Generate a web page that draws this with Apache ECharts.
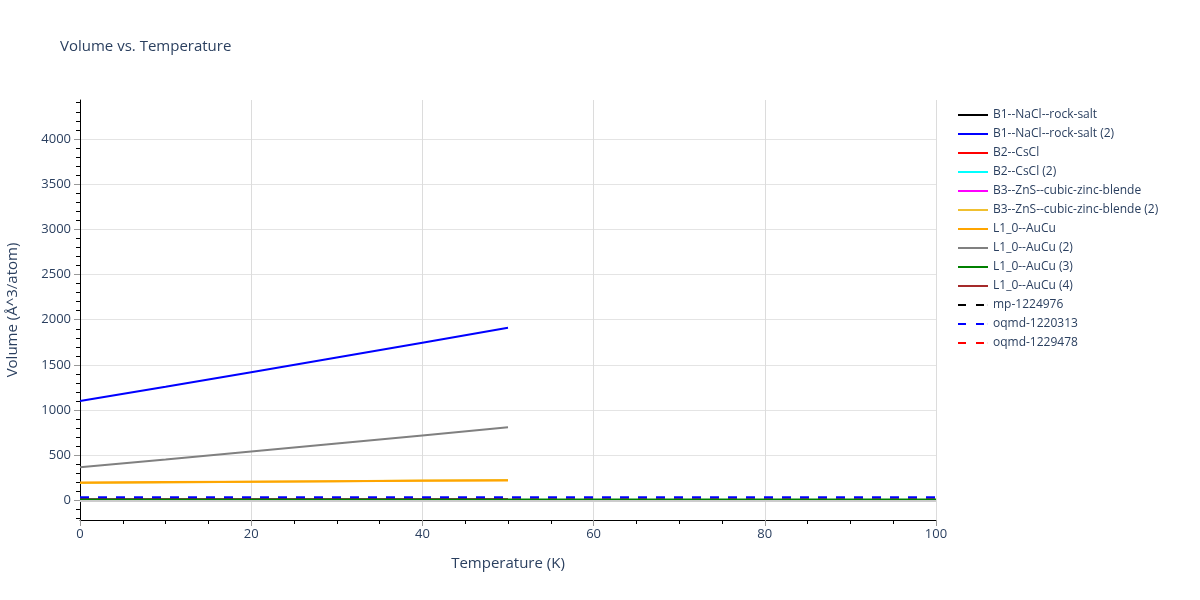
<!DOCTYPE html>
<html>
<head>
<meta charset="utf-8">
<script src="https://cdn.jsdelivr.net/npm/echarts@6/dist/echarts.min.js"></script>
<style>html,body{margin:0;padding:0;background:#fff;}#c{width:1200px;height:600px;}</style>
</head>
<body>
<div id="c"></div>
<script>
// ---- data ----
const tempsHalf = [0, 10, 20, 30, 40, 50];
const tempsFull = [0, 20, 40, 60, 80, 100];

const b1RockSalt      = [13, 13.4, 13.8, 14.2, 14.6, 15];
const b1RockSalt2     = [1100, 1258, 1420, 1582, 1745, 1910];
const b2CsCl          = [13, 13.4, 13.8, 14.2, 14.6, 15];
const b2CsCl2         = [13, 13.4, 13.8, 14.2, 14.6, 15];
const b3ZnS           = [13, 13.4, 13.8, 14.2, 14.6, 15];
const b3ZnS2          = [194, 200, 207, 214, 221, 228];
const l10AuCu         = [200, 204, 209, 213, 218, 222];
const l10AuCu2        = [368, 455, 543, 632, 720, 810];
const l10AuCu3        = [12, 12, 12.5, 12.5, 13, 13];
const l10AuCu4        = [13, 13.4, 13.8, 14.2, 14.6, 15];
const mp1224976       = [12, 12, 12.5, 12.5, 13, 13];
const oqmd1220313     = [36, 36, 36, 36, 36, 36];
const oqmd1229478     = [12, 12, 12.5, 12.5, 13, 13];

const xTicks = [0, 20, 40, 60, 80, 100];
const yTicks = [0, 500, 1000, 1500, 2000, 2500, 3000, 3500, 4000];
const yMinorTicks = [-200, -100, 100, 200, 300, 400, 600, 700, 800, 900, 1100, 1200, 1300, 1400,
  1600, 1700, 1800, 1900, 2100, 2200, 2300, 2400, 2600, 2700, 2800, 2900, 3100, 3200, 3300, 3400,
  3600, 3700, 3800, 3900, 4100, 4200, 4300, 4400];

function pairs(xs, ys) { return xs.map((x, i) => [x, ys[i]]); }

const seriesDefs = [
  { name: 'B1--NaCl--rock-salt', x: tempsHalf, y: b1RockSalt, color: '#000000', dash: 'solid', z: 2 },
  { name: 'B1--NaCl--rock-salt (2)', x: tempsHalf, y: b1RockSalt2, color: '#0000ff', dash: 'solid', z: 3 },
  { name: 'B2--CsCl', x: tempsHalf, y: b2CsCl, color: '#ff0000', dash: 'solid', z: 2 },
  { name: 'B2--CsCl (2)', x: tempsHalf, y: b2CsCl2, color: '#00ffff', dash: 'solid', z: 2 },
  { name: 'B3--ZnS--cubic-zinc-blende', x: tempsHalf, y: b3ZnS, color: '#ff00ff', dash: 'solid', z: 2 },
  { name: 'B3--ZnS--cubic-zinc-blende (2)', x: tempsHalf, y: b3ZnS2, color: '#f0c030', dash: 'solid', z: 2 },
  { name: 'L1_0--AuCu', x: tempsHalf, y: l10AuCu, color: '#ffa500', dash: 'solid', z: 3 },
  { name: 'L1_0--AuCu (2)', x: tempsHalf, y: l10AuCu2, color: '#808080', dash: 'solid', z: 3 },
  { name: 'L1_0--AuCu (3)', x: tempsFull, y: l10AuCu3, color: '#008000', dash: 'solid', z: 4 },
  { name: 'L1_0--AuCu (4)', x: tempsHalf, y: l10AuCu4, color: '#a52a2a', dash: 'solid', z: 2 },
  { name: 'mp-1224976', x: tempsFull, y: mp1224976, color: '#000000', dash: [9, 9], z: 2 },
  { name: 'oqmd-1220313', x: tempsFull, y: oqmd1220313, color: '#0000ff', dash: [9, 9], z: 5 },
  { name: 'oqmd-1229478', x: tempsFull, y: oqmd1229478, color: '#ff0000', dash: [9, 9], z: 2 }
];

const textColor = '#2a3f5f';
const fontFam = '"Open Sans", "Noto Sans", Arial, sans-serif';
const solidIcon = 'path://M0,0 L30,0 L30,2 L0,2 Z';
const dashIcon = 'path://M0,0 L8,0 L8,2 L0,2 Z M18,0 L26,0 L26,2 L18,2 Z M29.9,0 L30,0 L30,2 L29.9,2 Z';

const chart = echarts.init(document.getElementById('c'), null, { renderer: 'canvas' });

const series = seriesDefs.map(d => ({
  name: d.name,
  type: 'line',
  data: pairs(d.x, d.y),
  showSymbol: false,
  symbol: 'none',
  z: d.z,
  animation: false,
  lineStyle: { color: d.color, width: 2, type: d.dash },
  itemStyle: { color: d.color }
}));
// zero line
series.push({
  name: '__zero',
  type: 'line',
  data: [],
  silent: true,
  z: 1,
  markLine: {
    silent: true, symbol: 'none', label: { show: false }, animation: false,
    lineStyle: { color: '#cccccc', width: 2, type: 'solid' },
    data: [{ yAxis: 0 }]
  }
});

chart.setOption({
  animation: false,
  backgroundColor: '#ffffff',
  title: {
    text: 'Volume vs. Temperature',
    left: 55, top: 34,
    textStyle: { color: textColor, fontSize: 15, fontWeight: 'normal', fontFamily: fontFam }
  },
  grid: { left: 80, right: 264, top: 100, bottom: 80, containLabel: false, outerBoundsMode: 'none' },
  legend: {
    data: seriesDefs.map(d => ({ name: d.name, icon: Array.isArray(d.dash) ? dashIcon : solidIcon })),
    orient: 'vertical',
    left: 958, top: 109, padding: 0,
    itemWidth: 30, itemHeight: 12, itemGap: 7,
    textStyle: { color: textColor, fontSize: 12, fontFamily: fontFam }
  },
  xAxis: {
    type: 'value',
    min: 0, max: 100, interval: 20,
    name: 'Temperature (K)', nameLocation: 'middle', nameGap: 36,
    nameTextStyle: { color: textColor, fontSize: 15, fontFamily: fontFam },
    axisLine: { show: true, onZero: false, lineStyle: { color: '#000', width: 1 } },
    axisTick: { show: true, length: 6, lineStyle: { color: '#999' } },
    minorTick: { show: true, splitNumber: 4, length: 4, lineStyle: { color: '#000' } },
    axisLabel: { color: textColor, fontSize: 13, fontFamily: fontFam, margin: 8, customValues: xTicks,
      formatter: v => String(v) },
    splitLine: { show: true, lineStyle: { color: '#dcdcdc', width: 1 } }
  },
  yAxis: [{
    type: 'value',
    min: -215, max: 4430,
    name: 'Volume (Å^3/atom)', nameLocation: 'middle', nameGap: 60,
    nameTextStyle: { color: textColor, fontSize: 15, fontFamily: fontFam },
    axisLine: { show: true, onZero: false, lineStyle: { color: '#000', width: 1 } },
    axisTick: { show: true, length: 6, lineStyle: { color: '#999' }, customValues: yTicks },
    minorTick: { show: false },
    axisLabel: { color: textColor, fontSize: 13, fontFamily: fontFam, margin: 9, customValues: yTicks,
      formatter: v => String(v) },
    splitLine: { show: true, lineStyle: { color: '#e4e4e4', width: 1 } }
  }, {
    type: 'value',
    position: 'left',
    min: -215, max: 4430,
    axisLine: { show: false },
    axisTick: { show: true, length: 4, lineStyle: { color: '#000' }, customValues: yMinorTicks },
    axisLabel: { show: false, customValues: yMinorTicks },
    splitLine: { show: false }
  }],
  series: series
});
</script>
</body>
</html>
